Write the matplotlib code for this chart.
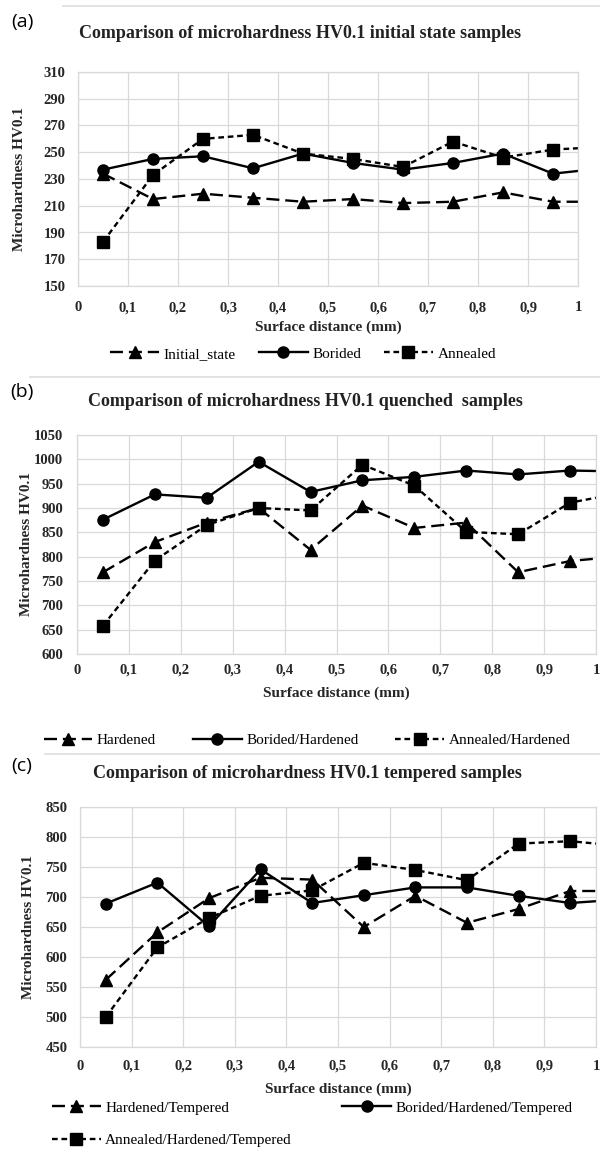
"""Microhardness HV0.1 profiles: initial state, quenched and tempered samples."""

import matplotlib

matplotlib.use("Agg")
import matplotlib.pyplot as plt
from matplotlib.lines import Line2D

W, H = 600, 1151

# depth from surface (mm); the last point sits on the right edge, no marker
DEPTH = [0.05, 0.15, 0.25, 0.35, 0.45, 0.55, 0.65, 0.75, 0.85, 0.95, 1.0]
X_TICKS = [0, 0.1, 0.2, 0.3, 0.4, 0.5, 0.6, 0.7, 0.8, 0.9, 1.0]
X_TICK_LABELS = ["0", "0,1", "0,2", "0,3", "0,4", "0,5", "0,6", "0,7", "0,8", "0,9", "1"]

# (a) initial state
INITIAL_STATE = [234, 215, 219, 216, 213, 215, 212, 213, 220, 213, 213]
BORIDED = [237, 245, 247, 238, 249, 242, 237, 242, 249, 234, 236]
ANNEALED = [183, 233, 260, 263, 249, 245, 239, 258, 246, 252, 253]
LABELS_A = ["Initial_state", "Borided", "Annealed"]
Y_TICKS_A = [150, 170, 190, 210, 230, 250, 270, 290, 310]

# (b) quenched
HARDENED = [768, 830, 870, 900, 814, 905, 859, 870, 768, 791, 796]
BORIDED_HARDENED = [876, 928, 921, 995, 933, 957, 964, 977, 969, 977, 976]
ANNEALED_HARDENED = [658, 792, 865, 900, 895, 989, 946, 851, 846, 911, 921]
LABELS_B = ["Hardened", "Borided/Hardened", "Annealed/Hardened"]
Y_TICKS_B = [600, 650, 700, 750, 800, 850, 900, 950, 1000, 1050]

# (c) tempered
HARDENED_TEMPERED = [562, 641, 698, 732, 729, 650, 702, 657, 680, 710, 710]
BORIDED_HARDENED_TEMPERED = [689, 724, 651, 746, 690, 703, 716, 716, 702, 690, 693]
ANNEALED_HARDENED_TEMPERED = [500, 616, 665, 702, 711, 757, 745, 728, 789, 793, 789]
LABELS_C = ["Hardened/Tempered", "Borided/Hardened/Tempered", "Annealed/Hardened/Tempered"]
Y_TICKS_C = [450, 500, 550, 600, 650, 700, 750, 800, 850]

TITLES = [
    "Comparison of microhardness HV0.1 initial state samples",
    "Comparison of microhardness HV0.1 quenched  samples",
    "Comparison of microhardness HV0.1 tempered samples",
]
TAGS = ["(a)", "(b)", "(c)"]

SERIF = ["Liberation Serif", "DejaVu Serif"]
GRID = "#d9d9d9"
INK = "#262626"

# line style per series slot: hardened-like, borided-like, annealed-like
STYLES = [
    dict(marker="^", markersize=8, dashes=(5.5, 2.5)),
    dict(marker="o", markersize=8, linestyle="-"),
    dict(marker="s", markersize=8, dashes=(2.4, 1.6)),
]


def fx(px):
    return px / W


def fy(py):
    return 1 - py / H


def panel(box, series, labels, yticks, xpad, ypad):
    left, top, right, bottom = box
    ax = fig.add_axes([fx(left), fy(bottom), fx(right - left), (bottom - top) / H])
    handles = []
    for values, label, style in zip(series, labels, STYLES):
        (h,) = ax.plot(DEPTH, values, color="black", lw=1.7, label=label,
                       markevery=slice(0, len(DEPTH) - 1), **style)
        handles.append(h)
    ax.set_xlim(0, 1)
    ax.set_ylim(yticks[0], yticks[-1])
    ax.set_xticks(X_TICKS)
    ax.set_xticklabels(X_TICK_LABELS)
    ax.set_yticks(yticks)
    ax.grid(True, color=GRID, lw=0.9)
    ax.set_axisbelow(True)
    for s in ax.spines.values():
        s.set_color(GRID)
        s.set_linewidth(0.9)
    ax.tick_params(length=0, labelsize=10.5, colors=INK)
    ax.tick_params(axis="x", pad=xpad)
    ax.tick_params(axis="y", pad=ypad)
    for t in ax.get_xticklabels() + ax.get_yticklabels():
        t.set_fontweight("bold")
        t.set_family(SERIF)
    return ax, handles


fig = plt.figure(figsize=(W / 100, H / 100), dpi=100)

# page rules from the source document
for y, x0 in [(6, 63), (377, 30), (754, 45)]:
    fig.add_artist(Line2D([fx(x0), 1], [fy(y), fy(y)], color="#dddddd", lw=1.2,
                          transform=fig.transFigure))

boxes = [(78, 72, 578, 286), (77, 435, 596, 654), (80, 807, 596, 1047)]
all_series = [
    [INITIAL_STATE, BORIDED, ANNEALED],
    [HARDENED, BORIDED_HARDENED, ANNEALED_HARDENED],
    [HARDENED_TEMPERED, BORIDED_HARDENED_TEMPERED, ANNEALED_HARDENED_TEMPERED],
]
all_labels = [LABELS_A, LABELS_B, LABELS_C]
all_yticks = [Y_TICKS_A, Y_TICKS_B, Y_TICKS_C]
xpads = [11, 7, 9]
ypads = [9, 10, 9]
tag_y = [22, 392, 766]
title_y = [33, 401, 774]
title_x = [300, 305, 307]
ylabel_x = [20, 27, 29]
xlabel_y = [327, 693, 1089]

for i in range(3):
    ax, handles = panel(boxes[i], all_series[i], all_labels[i], all_yticks[i],
                        xpads[i], ypads[i])
    left, top, right, bottom = boxes[i]
    fig.text(fx(22), fy(tag_y[i]), TAGS[i], ha="center", va="center",
             fontsize=14, family=["Open Sans", "DejaVu Sans"])
    fig.text(fx(title_x[i]), fy(title_y[i]), TITLES[i], ha="center", va="center",
             fontsize=13, fontweight="bold", family=SERIF, color="#222222")
    fig.text(fx(ylabel_x[i]), fy((top + bottom) / 2), "Microhardness HV0.1",
             rotation=90, ha="center", va="center", fontsize=11,
             fontweight="bold", family=SERIF, color=INK)
    fig.text(fx((left + right) / 2), fy(xlabel_y[i]), "Surface distance (mm)",
             ha="center", va="center", fontsize=11, fontweight="bold",
             family=SERIF, color=INK)

    common = dict(frameon=False, borderpad=0, handlelength=3.2, handletextpad=0.3,
                  prop={"family": SERIF, "size": 11})
    if i == 0:
        fig.legend(handles, LABELS_A, loc="center", ncol=3, columnspacing=1.5,
                   bbox_to_anchor=(fx(303), fy(354)), **common)
    elif i == 1:
        fig.legend(handles, LABELS_B, loc="center", ncol=3, columnspacing=2.4,
                   bbox_to_anchor=(fx(307), fy(740)), **common)
    else:
        order = [0, 2, 1]
        fig.legend([handles[k] for k in order], [LABELS_C[k] for k in order],
                   loc="center left", ncol=2, columnspacing=3.3, labelspacing=1.2,
                   bbox_to_anchor=(fx(44), fy(1124)), **common)

fig.savefig("out.png", dpi=100)
